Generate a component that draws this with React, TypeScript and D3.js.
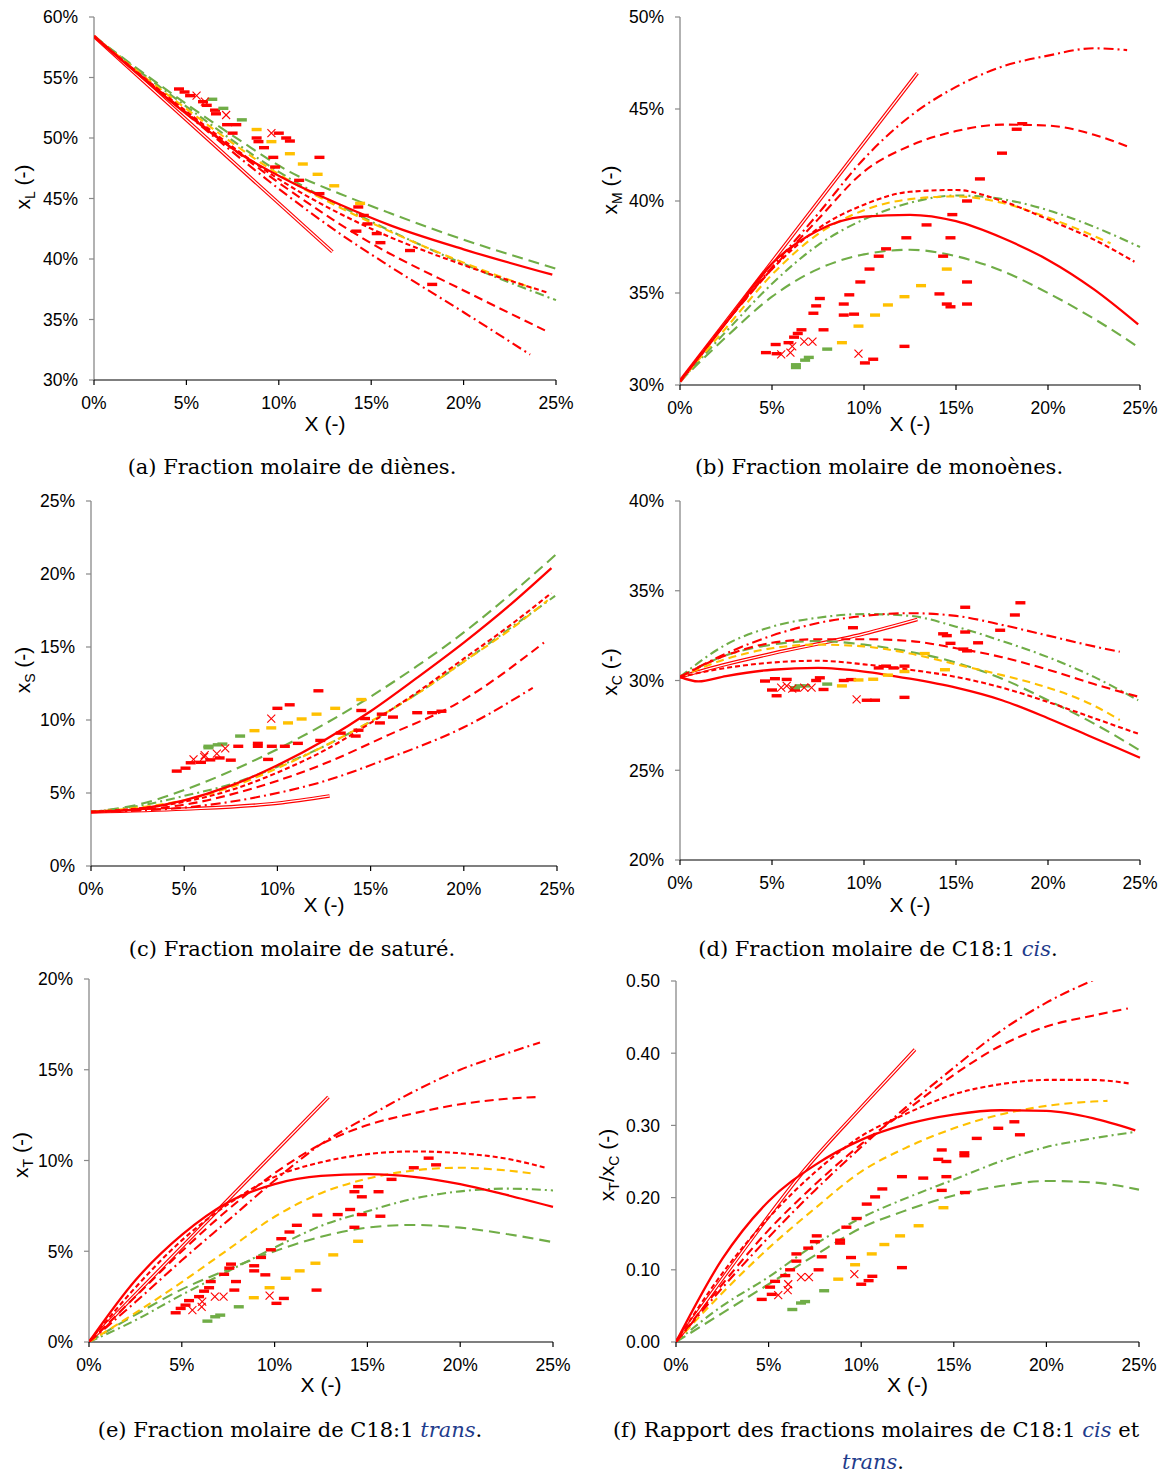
import React from 'react';
import * as d3 from 'd3';

type Pt = [number, number];

// ---------- Panel (a) x_L ----------
const A_DOUBLE: Pt[] = [[0, 58.4], [12.9, 40.6]];
const A_DASHDOT: Pt[] = [[0, 58.4], [5, 52.0], [10, 45.8], [13.3, 42.1], [16, 39.4], [20, 35.6], [23.6, 32.1]];
const A_DASH: Pt[] = [[0, 58.4], [5, 52.1], [10, 46.3], [15, 41.3], [20, 37.4], [24.4, 34.1]];
const A_SHORT: Pt[] = [[0, 58.4], [5, 52.2], [10, 46.6], [15, 42.5], [20, 39.5], [24.6, 37.2]];
const A_SOLID: Pt[] = [[0, 58.4], [5, 52.0], [7.9, 48.7], [10.6, 46.4], [13.3, 44.5], [16, 42.8], [20, 40.8], [24.8, 38.7]];
const A_YELLOW: Pt[] = [[0, 58.4], [5, 52.4], [10, 47.0], [15, 43.0], [20, 39.7], [23.7, 37.6]];
const A_GDASHDOT: Pt[] = [[0, 58.4], [5, 52.6], [10, 47.2], [15, 43.1], [20, 39.6], [25, 36.6]];
const A_GDASH: Pt[] = [[0, 58.4], [5.2, 52.6], [7.9, 49.8], [10.6, 47.2], [13.3, 45.4], [16, 43.8], [20, 41.6], [25, 39.2]];
const A_RED_PTS: Pt[] = [[4.6, 54.05], [4.9, 53.8], [5.2, 53.5], [5.9, 53.0], [6.1, 52.7], [6.55, 52.3], [6.6, 52.0], [7.2, 51.1], [7.7, 51.1], [7.5, 50.4], [8.8, 50.0], [8.9, 49.7], [9.2, 49.2], [10.0, 50.4], [10.4, 50.0], [10.6, 49.75], [9.7, 48.4], [9.8, 47.6], [12.2, 48.4], [11.1, 46.5], [12.2, 45.4], [14.3, 44.3], [14.6, 43.6], [14.8, 42.9], [14.2, 42.3], [15.3, 42.1], [15.5, 41.35], [17.1, 40.7], [18.3, 37.9]];
const A_YEL_PTS: Pt[] = [[8.8, 50.7], [9.6, 49.7], [10.6, 48.7], [11.3, 47.85], [12.1, 47.0], [13.0, 46.05], [14.4, 44.6]];
const A_GRN_PTS: Pt[] = [[6.4, 53.2], [7.0, 52.45], [8.0, 51.5]];
const A_CROSS: Pt[] = [[5.55, 53.5], [6.0, 53.0], [7.15, 51.9], [9.6, 50.4]];

// ---------- Panel (b) x_M ----------
const B_DOUBLE: Pt[] = [[0, 30.2], [12.9, 46.95]];
const B_DASHDOT: Pt[] = [[0, 30.2], [2.5, 33.4], [5, 36.4], [7.5, 39.3], [10, 42.3], [12.5, 44.6], [15, 46.2], [17.5, 47.3], [20, 47.9], [22.5, 48.3], [24.3, 48.2]];
const B_DASH: Pt[] = [[0, 30.2], [2.5, 33.4], [5, 36.3], [7.5, 39.0], [10, 41.6], [12.5, 43.0], [15, 43.8], [17.5, 44.15], [20, 44.1], [22.5, 43.6], [24.5, 42.9]];
const B_SHORT: Pt[] = [[0, 30.2], [2.5, 33.4], [5, 36.3], [7.5, 38.5], [10, 39.8], [12.5, 40.5], [15, 40.6], [17.5, 40.0], [20, 39.0], [22.5, 37.9], [24.7, 36.7]];
const B_SOLID: Pt[] = [[0, 30.2], [2.5, 33.4], [5, 36.6], [7.5, 38.4], [10, 39.15], [12.5, 39.25], [15, 38.9], [17.5, 38.0], [20, 36.8], [22.5, 35.2], [24.9, 33.3]];
const B_YELLOW: Pt[] = [[0, 30.2], [2.5, 33.1], [5, 36.0], [7.5, 38.2], [10, 39.5], [12.5, 40.1], [15, 40.25], [17.5, 39.9], [20, 39.1], [22.5, 38.1], [23.4, 37.7]];
const B_GDASHDOT: Pt[] = [[0, 30.2], [2.5, 32.9], [5, 35.5], [7.5, 37.6], [10, 39.0], [12.5, 39.9], [15, 40.3], [17.5, 40.1], [20, 39.5], [22.5, 38.6], [25, 37.5]];
const B_GDASH: Pt[] = [[0, 30.2], [2.5, 32.6], [5, 34.8], [7.5, 36.3], [10, 37.1], [12.5, 37.35], [15, 37.0], [17.5, 36.2], [20, 35.0], [22.5, 33.6], [25, 32.0]];
const B_RED_PTS: Pt[] = [[4.67, 31.76], [5.25, 31.7], [5.2, 32.2], [5.9, 32.3], [6.2, 32.6], [6.4, 32.8], [6.6, 33.0], [7.25, 33.9], [7.4, 34.3], [7.6, 34.7], [7.8, 33.0], [8.9, 34.4], [8.9, 33.8], [9.46, 33.85], [9.2, 34.9], [9.8, 35.6], [10.05, 31.2], [10.5, 31.4], [10.3, 36.3], [10.8, 37.0], [11.2, 37.4], [12.3, 38.0], [12.2, 32.1], [13.4, 38.7], [14.1, 34.95], [14.5, 34.4], [14.7, 34.25], [14.7, 38.0], [14.8, 39.26], [15.6, 40.0], [15.6, 35.6], [15.6, 34.4], [14.3, 37.0], [16.3, 41.2], [17.5, 42.6], [18.3, 43.9], [18.6, 44.2]];
const B_YEL_PTS: Pt[] = [[8.8, 32.3], [9.7, 33.2], [10.6, 33.8], [11.3, 34.35], [12.2, 34.8], [13.1, 35.4], [14.5, 36.3]];
const B_GRN_PTS: Pt[] = [[6.3, 30.95], [6.3, 31.1], [6.8, 31.35], [7.0, 31.5], [8.0, 31.95]];
const B_CROSS: Pt[] = [[5.5, 31.67], [6.0, 31.76], [6.1, 32.1], [6.75, 32.36], [7.2, 32.36], [9.7, 31.7]];

// ---------- Panel (c) x_S ----------
const C_DOUBLE: Pt[] = [[0, 3.7], [5, 3.9], [10, 4.3], [12.8, 4.8]];
const C_DASHDOT: Pt[] = [[0, 3.7], [5, 4.0], [9.25, 4.8], [12.5, 5.8], [16, 7.4], [20, 9.5], [23.7, 12.2]];
const C_DASH: Pt[] = [[0, 3.7], [5, 4.2], [8.9, 5.4], [12.5, 7.0], [16, 9.0], [19.6, 11.1], [24.3, 15.3]];
const C_SHORT: Pt[] = [[0, 3.7], [5, 4.4], [7.5, 5.2], [10, 6.4], [12.5, 7.9], [15, 9.8], [17.5, 11.9], [20, 14.2], [22.5, 16.5], [24.7, 18.7]];
const C_SOLID: Pt[] = [[0, 3.7], [2.5, 3.9], [5, 4.5], [7.5, 5.5], [10, 6.9], [12.5, 8.6], [15, 10.6], [17.5, 12.9], [20, 15.3], [22.5, 17.9], [24.7, 20.4]];
const C_YELLOW: Pt[] = [[0, 3.7], [2.5, 4.0], [5, 4.5], [7.5, 5.4], [10, 6.7], [12.5, 8.2], [15, 9.9], [17.5, 11.8], [20, 14.0], [22.5, 16.2], [24.5, 18.2]];
const C_GDASHDOT: Pt[] = [[0, 3.7], [2.5, 4.1], [5, 4.8], [7.5, 5.6], [10, 6.8], [12.5, 8.2], [15, 9.9], [17.5, 11.8], [20, 14.0], [22.5, 16.3], [24.9, 18.5]];
const C_GDASH: Pt[] = [[0, 3.7], [2.5, 4.2], [5, 5.2], [7.5, 6.5], [10, 8.0], [12.5, 9.7], [15, 11.6], [17.5, 13.7], [20, 16.0], [22.5, 18.6], [25, 21.4]];
const C_RED_PTS: Pt[] = [[4.6, 6.5], [5.07, 6.7], [5.35, 7.07], [5.9, 7.1], [6.4, 7.27], [6.9, 7.4], [7.5, 7.25], [7.9, 8.2], [8.95, 8.4], [8.95, 8.2], [9.7, 8.2], [10.4, 8.2], [11.1, 8.4], [9.5, 7.3], [10.0, 10.8], [10.66, 11.04], [12.2, 12.0], [12.3, 8.6], [13.4, 9.1], [14.2, 8.9], [14.35, 9.3], [14.5, 10.65], [14.7, 10.1], [15.5, 9.8], [15.6, 10.4], [16.2, 10.2], [17.5, 10.5], [18.3, 10.5], [18.8, 10.6]];
const C_YEL_PTS: Pt[] = [[8.77, 9.27], [9.67, 9.46], [10.57, 9.8], [11.3, 10.07], [12.1, 10.4], [13.1, 10.8], [14.5, 11.4]];
const C_GRN_PTS: Pt[] = [[6.3, 8.1], [6.3, 8.2], [6.8, 8.3], [7.05, 8.35], [8.0, 8.9]];
const C_CROSS: Pt[] = [[5.5, 7.3], [6.07, 7.48], [6.1, 7.6], [6.75, 7.7], [7.2, 8.05], [9.67, 10.1]];

// ---------- Panel (d) x_C ----------
const D_DOUBLE: Pt[] = [[0, 30.2], [2.5, 30.9], [5, 31.5], [10, 32.6], [12.9, 33.4]];
const D_DASHDOT: Pt[] = [[0, 30.2], [2.5, 31.5], [5, 32.5], [7.5, 33.2], [10, 33.6], [12.5, 33.75], [15, 33.6], [17.5, 33.1], [20, 32.5], [22.5, 31.9], [23.9, 31.6]];
const D_DASH: Pt[] = [[0, 30.2], [2.5, 31.4], [5, 32.1], [7.5, 32.3], [10, 32.3], [12.5, 32.2], [15, 31.8], [17.5, 31.3], [20, 30.6], [22.5, 29.8], [24.9, 29.1]];
const D_SHORT: Pt[] = [[0, 30.2], [2.5, 30.7], [5, 31.0], [7.5, 31.1], [10, 30.9], [12.5, 30.6], [15, 30.2], [17.5, 29.6], [20, 28.8], [22.5, 27.9], [25, 27.0]];
const D_SOLID: Pt[] = [[0, 30.2], [1, 29.95], [2.5, 30.25], [5, 30.6], [7.5, 30.7], [10, 30.5], [12.5, 30.1], [15, 29.6], [17.5, 28.9], [20, 27.9], [22.5, 26.8], [25, 25.7]];
const D_YELLOW: Pt[] = [[0, 30.2], [2.5, 31.2], [5, 31.8], [7.5, 32.0], [10, 31.9], [12.5, 31.5], [15, 30.9], [17.5, 30.3], [20, 29.6], [22.5, 28.6], [23.9, 27.8]];
const D_GDASHDOT: Pt[] = [[0, 30.2], [2.5, 32.0], [5, 33.0], [7.5, 33.5], [10, 33.7], [12.5, 33.6], [15, 33.0], [17.5, 32.2], [20, 31.3], [22.5, 30.2], [24.9, 28.9]];
const D_GDASH: Pt[] = [[0, 30.2], [2.5, 31.4], [5, 32.0], [7.5, 32.2], [10, 32.0], [12.5, 31.6], [15, 31.0], [17.5, 30.1], [20, 28.9], [22.5, 27.6], [25, 26.1]];
const D_RED_PTS: Pt[] = [[4.62, 29.97], [5.16, 30.1], [5.0, 29.47], [5.25, 29.15], [5.8, 30.06], [6.25, 29.47], [7.4, 30.0], [7.6, 30.15], [7.8, 29.5], [8.9, 30.0], [9.3, 30.05], [9.4, 32.94], [10.15, 28.9], [10.6, 28.9], [10.8, 30.7], [11.2, 30.8], [11.6, 30.7], [12.2, 29.06], [12.2, 30.8], [14.3, 32.6], [14.5, 32.5], [14.7, 32.07], [15.5, 34.08], [15.5, 32.7], [15.4, 31.75], [15.6, 31.65], [16.2, 32.1], [17.4, 32.8], [18.2, 33.65], [18.5, 34.33]];
const D_YEL_PTS: Pt[] = [[8.8, 29.7], [9.7, 30.03], [10.5, 30.07], [11.3, 30.3], [12.2, 30.5], [13.3, 31.5], [14.4, 30.6]];
const D_GRN_PTS: Pt[] = [[6.25, 29.6], [6.5, 29.7], [6.8, 29.7], [8.0, 29.8]];
const D_CROSS: Pt[] = [[5.5, 29.6], [5.8, 29.7], [6.1, 29.55], [6.75, 29.6], [7.15, 29.6], [9.6, 28.95]];

// ---------- Panel (e) x_T ----------
const E_DOUBLE: Pt[] = [[0, 0], [12.9, 13.5]];
const E_DASHDOT: Pt[] = [[0, 0], [2.5, 2.2], [5, 4.5], [7.5, 6.7], [10, 8.9], [12.5, 10.9], [15, 12.4], [17.5, 13.8], [20, 15.0], [22.5, 15.9], [24.3, 16.5]];
const E_DASH: Pt[] = [[0, 0], [2.5, 2.5], [5, 5.0], [7.5, 7.3], [10, 9.3], [12.5, 10.9], [15, 11.95], [17.5, 12.6], [20, 13.1], [22.5, 13.4], [24.3, 13.5]];
const E_SHORT: Pt[] = [[0, 0], [2.5, 3.0], [5, 5.6], [7.5, 7.6], [10, 9.1], [12.5, 9.9], [15, 10.35], [17.5, 10.5], [20, 10.4], [22.5, 10.1], [24.6, 9.6]];
const E_SOLID: Pt[] = [[0, 0], [2.5, 3.4], [5, 5.9], [7.5, 7.7], [10, 8.7], [12.5, 9.15], [15, 9.25], [17.5, 9.1], [20, 8.7], [22.5, 8.1], [25, 7.45]];
const E_YELLOW: Pt[] = [[0, 0], [2.5, 1.6], [5, 3.3], [7.5, 5.1], [10, 6.9], [12.5, 8.2], [15, 9.0], [17.5, 9.45], [20, 9.6], [22.5, 9.45], [23.8, 9.3]];
const E_GDASHDOT: Pt[] = [[0, 0], [2.5, 1.2], [5, 2.6], [7.5, 3.9], [10, 5.2], [12.5, 6.4], [15, 7.2], [17.5, 7.9], [20, 8.3], [22.5, 8.45], [25, 8.35]];
const E_GDASH: Pt[] = [[0, 0], [2.5, 1.5], [5, 2.9], [7.5, 4.0], [10, 5.0], [12.5, 5.8], [15, 6.3], [17.5, 6.45], [20, 6.3], [22.5, 5.95], [25, 5.5]];
const E_RED_PTS: Pt[] = [[4.67, 1.61], [4.94, 1.85], [5.2, 2.03], [5.39, 2.28], [5.93, 2.5], [6.2, 2.8], [6.47, 2.99], [6.56, 3.33], [7.28, 3.73], [7.56, 4.07], [7.65, 4.29], [7.83, 2.86], [7.92, 3.33], [8.9, 4.2], [8.9, 3.92], [9.5, 3.7], [9.27, 4.66], [9.8, 5.08], [10.1, 2.13], [10.5, 2.4], [10.36, 5.69], [10.8, 6.06], [11.2, 6.43], [12.3, 6.99], [12.26, 2.86], [13.4, 7.02], [14.07, 7.3], [14.3, 6.32], [14.5, 8.56], [14.3, 8.28], [14.7, 8.0], [14.7, 7.02], [15.6, 8.28], [15.7, 6.93], [16.3, 8.96], [17.5, 9.6], [18.3, 10.13], [18.7, 9.76]];
const E_YEL_PTS: Pt[] = [[8.88, 2.44], [9.73, 2.99], [10.6, 3.51], [11.35, 3.92], [12.2, 4.34], [13.16, 4.8], [14.5, 5.55]];
const E_GRN_PTS: Pt[] = [[6.38, 1.15], [6.8, 1.39], [7.07, 1.48], [8.07, 1.94]];
const E_CROSS: Pt[] = [[5.57, 1.76], [6.07, 1.94], [6.1, 2.22], [6.78, 2.5], [7.25, 2.5], [9.73, 2.55]];

// ---------- Panel (f) x_T / x_C ----------
const F_DOUBLE: Pt[] = [[0, 0], [3, 0.105], [7, 0.24], [10, 0.325], [12.9, 0.405]];
const F_DASHDOT: Pt[] = [[0, 0], [2.5, 0.075], [5, 0.145], [7.5, 0.21], [10, 0.27], [12.5, 0.327], [15, 0.38], [17.5, 0.43], [20, 0.47], [22.6, 0.502]];
const F_DASH: Pt[] = [[0, 0], [2.5, 0.08], [5, 0.155], [7.5, 0.218], [10, 0.274], [12.5, 0.322], [15, 0.37], [17.5, 0.41], [20, 0.437], [22.5, 0.452], [24.4, 0.462]];
const F_SHORT: Pt[] = [[0, 0], [2.5, 0.095], [5, 0.172], [7.5, 0.235], [10, 0.285], [12.5, 0.317], [15, 0.343], [17.5, 0.357], [20, 0.363], [22.5, 0.363], [24.5, 0.358]];
const F_SOLID: Pt[] = [[0, 0], [2.5, 0.115], [5, 0.195], [7.5, 0.245], [10, 0.28], [12.5, 0.302], [15, 0.315], [17.5, 0.321], [20, 0.32], [22.5, 0.31], [24.8, 0.293]];
const F_YELLOW: Pt[] = [[0, 0], [2.5, 0.068], [5, 0.13], [7.5, 0.185], [10, 0.236], [12.5, 0.27], [15, 0.296], [17.5, 0.315], [20, 0.327], [22.5, 0.333], [23.3, 0.334]];
const F_GDASHDOT: Pt[] = [[0, 0], [2.5, 0.05], [5, 0.09], [7.5, 0.135], [10, 0.172], [12.5, 0.2], [15, 0.225], [17.5, 0.25], [20, 0.27], [22.5, 0.282], [24.8, 0.291]];
const F_GDASH: Pt[] = [[0, 0], [2.5, 0.04], [5, 0.08], [7.5, 0.12], [10, 0.158], [12.5, 0.183], [15, 0.203], [17.5, 0.216], [20, 0.223], [22.5, 0.221], [25, 0.211]];
const F_RED_PTS: Pt[] = [[4.63, 0.059], [5.17, 0.066], [5.08, 0.076], [5.35, 0.084], [5.9, 0.092], [6.16, 0.1], [6.5, 0.112], [6.5, 0.122], [7.14, 0.13], [7.5, 0.139], [7.6, 0.147], [7.7, 0.1], [7.87, 0.118], [8.86, 0.137], [8.86, 0.141], [9.2, 0.159], [9.45, 0.117], [9.75, 0.171], [10.0, 0.08], [10.4, 0.085], [10.6, 0.091], [10.3, 0.191], [10.75, 0.201], [11.14, 0.212], [12.2, 0.229], [12.2, 0.103], [13.35, 0.227], [14.16, 0.253], [14.35, 0.266], [14.6, 0.25], [14.6, 0.229], [14.35, 0.21], [15.57, 0.262], [15.57, 0.258], [15.6, 0.207], [16.24, 0.282], [17.4, 0.296], [18.27, 0.305], [18.57, 0.287]];
const F_YEL_PTS: Pt[] = [[8.76, 0.087], [9.67, 0.107], [10.57, 0.122], [11.25, 0.135], [12.1, 0.147], [13.1, 0.161], [14.44, 0.186]];
const F_GRN_PTS: Pt[] = [[6.28, 0.045], [6.75, 0.054], [6.97, 0.056], [8.0, 0.071]];
const F_CROSS: Pt[] = [[5.52, 0.065], [6.03, 0.072], [6.06, 0.08], [6.75, 0.09], [7.18, 0.09], [9.63, 0.094]];

const X_TICKS = [0, 5, 10, 15, 20, 25];

const RED = '#FF0000';
const YEL = '#FFC000';
const GRN = '#70AD47';
const BLUE = '#1F3C8C';

const STYLES: Record<string, { stroke: string; dash?: string; w: number }> = {
  gdash: { stroke: GRN, dash: '11 6', w: 2.1 },
  gdashdot: { stroke: GRN, dash: '9 4 2 4', w: 2.1 },
  yellow: { stroke: YEL, dash: '8 5', w: 2.1 },
  dashdot: { stroke: RED, dash: '10 4 2 4', w: 2.1 },
  dash: { stroke: RED, dash: '9 5', w: 2.1 },
  short: { stroke: RED, dash: '5 3', w: 2.1 },
  solid: { stroke: RED, w: 2.3 },
};

interface Cfg {
  id: string;
  x0: number; x1: number; yTop: number; yBot: number;
  dom: [number, number]; step: number; fmt: (v: number) => string;
  ytitle: [string, string, string?, string?];
  tx: number; ty: number; xty: number;
  curves: Record<string, Pt[]>;
  dbl: Pt[];
  red: Pt[]; yel: Pt[]; grn: Pt[]; cross: Pt[];
}

const pct = (v: number) => `${v}%`;

const PANELS: Cfg[] = [
  { id: 'a', x0: 94, x1: 556, yTop: 17, yBot: 380, dom: [30, 60], step: 5, fmt: pct, ytitle: ['x', 'L'], tx: 30, ty: 187, xty: 431,
    curves: { gdash: A_GDASH, gdashdot: A_GDASHDOT, yellow: A_YELLOW, dashdot: A_DASHDOT, dash: A_DASH, short: A_SHORT, solid: A_SOLID },
    dbl: A_DOUBLE, red: A_RED_PTS, yel: A_YEL_PTS, grn: A_GRN_PTS, cross: A_CROSS },
  { id: 'b', x0: 680, x1: 1140, yTop: 17, yBot: 385, dom: [30, 50], step: 5, fmt: pct, ytitle: ['x', 'M'], tx: 617, ty: 190, xty: 431,
    curves: { gdash: B_GDASH, gdashdot: B_GDASHDOT, yellow: B_YELLOW, dashdot: B_DASHDOT, dash: B_DASH, short: B_SHORT, solid: B_SOLID },
    dbl: B_DOUBLE, red: B_RED_PTS, yel: B_YEL_PTS, grn: B_GRN_PTS, cross: B_CROSS },
  { id: 'c', x0: 91, x1: 557, yTop: 501, yBot: 866, dom: [0, 25], step: 5, fmt: pct, ytitle: ['x', 'S'], tx: 30, ty: 670, xty: 912,
    curves: { gdash: C_GDASH, gdashdot: C_GDASHDOT, yellow: C_YELLOW, dashdot: C_DASHDOT, dash: C_DASH, short: C_SHORT, solid: C_SOLID },
    dbl: C_DOUBLE, red: C_RED_PTS, yel: C_YEL_PTS, grn: C_GRN_PTS, cross: C_CROSS },
  { id: 'd', x0: 680, x1: 1140, yTop: 501, yBot: 860, dom: [20, 40], step: 5, fmt: pct, ytitle: ['x', 'C'], tx: 617, ty: 672, xty: 912,
    curves: { gdash: D_GDASH, gdashdot: D_GDASHDOT, yellow: D_YELLOW, dashdot: D_DASHDOT, dash: D_DASH, short: D_SHORT, solid: D_SOLID },
    dbl: D_DOUBLE, red: D_RED_PTS, yel: D_YEL_PTS, grn: D_GRN_PTS, cross: D_CROSS },
  { id: 'e', x0: 89, x1: 553, yTop: 979, yBot: 1342, dom: [0, 20], step: 5, fmt: pct, ytitle: ['x', 'T'], tx: 28, ty: 1155, xty: 1392,
    curves: { gdash: E_GDASH, gdashdot: E_GDASHDOT, yellow: E_YELLOW, dashdot: E_DASHDOT, dash: E_DASH, short: E_SHORT, solid: E_SOLID },
    dbl: E_DOUBLE, red: E_RED_PTS, yel: E_YEL_PTS, grn: E_GRN_PTS, cross: E_CROSS },
  { id: 'f', x0: 676, x1: 1139, yTop: 981, yBot: 1342, dom: [0, 0.5], step: 0.1, fmt: (v) => v.toFixed(2), ytitle: ['x', 'T', '/x', 'C'], tx: 614, ty: 1165, xty: 1392,
    curves: { gdash: F_GDASH, gdashdot: F_GDASHDOT, yellow: F_YELLOW, dashdot: F_DASHDOT, dash: F_DASH, short: F_SHORT, solid: F_SOLID },
    dbl: F_DOUBLE, red: F_RED_PTS, yel: F_YEL_PTS, grn: F_GRN_PTS, cross: F_CROSS },
];

const SANS = '"Liberation Sans", Arial, sans-serif';
const SERIF = '"DejaVu Serif", serif';

function Panel({ c }: { c: Cfg }) {
  const x = d3.scaleLinear().domain([0, 25]).range([c.x0, c.x1]);
  const y = d3.scaleLinear().domain(c.dom).range([c.yBot, c.yTop]);
  const line = d3.line<Pt>().x((d) => x(d[0])).y((d) => y(d[1])).curve(d3.curveMonotoneX);
  const yTicks = d3.range(c.dom[0], c.dom[1] + c.step / 2, c.step).map((v) => +v.toFixed(4));
  const clip = `clip-${c.id}`;
  const mx = (c.x0 + c.x1) / 2;
  return (
    <g>
      <defs>
        <clipPath id={clip}>
          <rect x={c.x0} y={c.yTop} width={c.x1 - c.x0 + 4} height={c.yBot - c.yTop} />
        </clipPath>
      </defs>
      <line x1={c.x0} x2={c.x0} y1={c.yTop} y2={c.yBot} stroke="#898989" strokeWidth={1.3} />
      {yTicks.map((v) => (
        <g key={'y' + v}>
          <line x1={c.x0 - 5} x2={c.x0} y1={y(v)} y2={y(v)} stroke="#898989" strokeWidth={1.2} />
          <text x={c.x0 - 16} y={y(v)} dy="0.36em" textAnchor="end" fontFamily={SANS} fontSize={17.5} fill="#000">{c.fmt(v)}</text>
        </g>
      ))}
      <line x1={c.x0} x2={c.x1} y1={c.yBot} y2={c.yBot} stroke="#000" strokeWidth={1.2} />
      {X_TICKS.map((v) => (
        <g key={'x' + v}>
          <line x1={x(v)} x2={x(v)} y1={c.yBot} y2={c.yBot + 5} stroke="#000" strokeWidth={1.2} />
          <text x={x(v)} y={c.yBot + 29} textAnchor="middle" fontFamily={SANS} fontSize={17.5} fill="#000">{pct(v)}</text>
        </g>
      ))}
      <text x={mx} y={c.xty} textAnchor="middle" fontFamily={SANS} fontSize={21} fill="#000">X (-)</text>
      <text transform={`translate(${c.tx},${c.ty}) rotate(-90)`} textAnchor="middle" fontFamily={SANS} fontSize={21} fill="#000">
        {c.ytitle[0]}
        <tspan dy={5} fontSize={14}>{c.ytitle[1]}</tspan>
        {c.ytitle[2] ? <tspan dy={-5}>{c.ytitle[2]}</tspan> : null}
        {c.ytitle[3] ? <tspan dy={5} fontSize={14}>{c.ytitle[3]}</tspan> : null}
        <tspan dy={-5}> (-)</tspan>
      </text>
      <g clipPath={`url(#${clip})`}>
        <path d={line(c.dbl) || ''} fill="none" stroke={RED} strokeWidth={3.6} />
        <path d={line(c.dbl) || ''} fill="none" stroke="#fff" strokeWidth={1.3} />
        {Object.keys(STYLES).map((k) => {
          const s = STYLES[k];
          return (
            <path key={k} d={line(c.curves[k]) || ''} fill="none" stroke={s.stroke} strokeWidth={s.w} strokeDasharray={s.dash} />
          );
        })}
      </g>
      {c.red.map((p, i) => (
        <rect key={'r' + i} x={x(p[0]) - 5} y={y(p[1]) - 1.7} width={10} height={3.4} fill={RED} />
      ))}
      {c.yel.map((p, i) => (
        <rect key={'yy' + i} x={x(p[0]) - 5} y={y(p[1]) - 1.7} width={10} height={3.4} fill={YEL} />
      ))}
      {c.grn.map((p, i) => (
        <rect key={'g' + i} x={x(p[0]) - 5} y={y(p[1]) - 1.7} width={10} height={3.4} fill={GRN} />
      ))}
      {c.cross.map((p, i) => {
        const cx = x(p[0]);
        const cy = y(p[1]);
        return (
          <g key={'c' + i} stroke={RED} strokeWidth={1.1}>
            <line x1={cx - 4} x2={cx + 4} y1={cy - 4} y2={cy + 4} />
            <line x1={cx - 4} x2={cx + 4} y1={cy + 4} y2={cy - 4} />
          </g>
        );
      })}
    </g>
  );
}

export default function App() {
  const cap = { fontFamily: SERIF, fontSize: 21, fill: '#000', textAnchor: 'middle' as const };
  const it = { fontStyle: 'italic' as const, fill: BLUE };
  return (
    <svg width={1168} height={1475} style={{ position: 'absolute', left: 0, top: 0, background: '#fff' }}>
      <rect x={0} y={0} width={1168} height={1475} fill="#fff" />
      {PANELS.map((p) => <Panel key={p.id} c={p} />)}
      <text x={292} y={474} {...cap}>(a) Fraction molaire de diènes.</text>
      <text x={879} y={474} {...cap}>(b) Fraction molaire de monoènes.</text>
      <text x={292} y={956} {...cap}>(c) Fraction molaire de saturé.</text>
      <text x={878} y={956} {...cap}>(d) Fraction molaire de C18:1 <tspan {...it}>cis</tspan>.</text>
      <text x={290} y={1437} {...cap}>(e) Fraction molaire de C18:1 <tspan {...it}>trans</tspan>.</text>
      <text x={876} y={1437} {...cap}>(f) Rapport des fractions molaires de C18:1 <tspan {...it}>cis</tspan> et</text>
      <text x={873} y={1469} {...cap}><tspan {...it}>trans</tspan>.</text>
    </svg>
  );
}
